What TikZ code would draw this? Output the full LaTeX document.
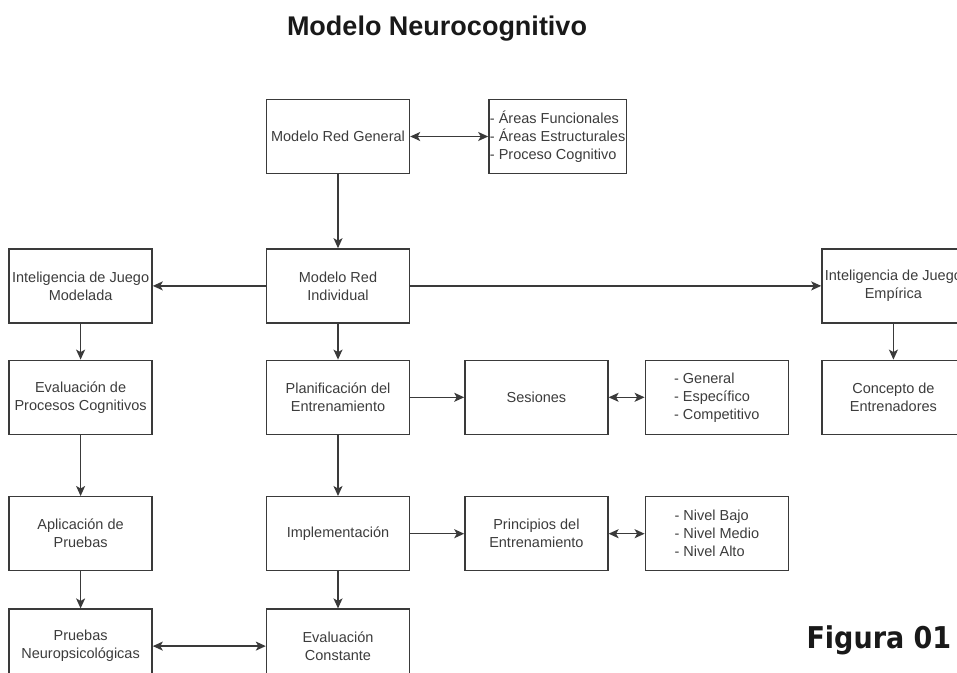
\documentclass[tikz,border=0pt]{standalone}
\usepackage{fontspec}
\setmainfont{Liberation Sans}
\newfontfamily\figfont{DejaVu Sans Condensed}
\usepackage{xcolor}
\usetikzlibrary{arrows.meta, positioning}
\definecolor{linea}{HTML}{3A3A3A}
\definecolor{texto}{HTML}{3C3C3C}
\tikzset{
  blok/.style={rectangle,draw=linea,line width=1.4pt,minimum width=143pt,minimum height=74pt,inner sep=1pt,align=center,text=texto,font=\fontsize{14.5}{18}\selectfont},
  lista/.style={blok,align=left},
  flecha/.style={-{Stealth[length=10pt,width=9pt,inset=2.5pt]}, line width=1.4pt, color=linea},
  dobleflecha/.style={{Stealth[length=10pt,width=9pt,inset=2.5pt]}-{Stealth[length=10pt,width=9pt,inset=2.5pt]}, line width=1.4pt, color=linea}
}

\begin{document}
\begin{tikzpicture}[x=1pt,y=-1pt]
  \useasboundingbox (0,0) rectangle (957,672);
  \node[font=\bfseries\fontsize{27}{30}\selectfont, anchor=base, text=black!90] (titulo) at (437,35) {Modelo Neurocognitivo};
  % columna central
  \node[blok] (MRG) at (338,136.5) {Modelo Red General};
  \node[lista, minimum width=130pt, right=78pt of MRG] (areas) {- Áreas Funcionales\\- Áreas Estructurales\\- Proceso Cognitivo};
  \node[blok, below=74pt of MRG] (MRI) {Modelo Red\\Individual};
  \node[blok, below=36pt of MRI] (PE) {Planificación del\\Entrenamiento};
  \node[blok, right=54pt of PE] (SES) {Sesiones};
  \node[lista, right=36pt of SES] (tipos) {- General\\- Específico\\- Competitivo};
  \node[blok, below=61pt of PE] (IMP) {Implementación};
  \node[blok, right=54pt of IMP] (PRE) {Principios del\\Entrenamiento};
  \node[lista, right=36pt of PRE] (niveles) {- Nivel Bajo\\- Nivel Medio\\- Nivel Alto};
  \node[blok, below=37pt of IMP] (EC) {Evaluación\\Constante};
  % columna izquierda
  \node[blok, left=113pt of MRI] (IJM) {Inteligencia de Juego\\Modelada};
  \node[blok, below=36pt of IJM] (EPC) {Evaluación de\\Procesos Cognitivos};
  \node[blok, below=61pt of EPC] (AP) {Aplicación de\\Pruebas};
  \node[blok, below=37pt of AP] (PN) {Pruebas\\Neuropsicológicas};
  % columna derecha
  \node[blok, right=411pt of MRI] (IJE) {Inteligencia de Juego\\Empírica};
  \node[blok, below=36pt of IJE] (CE) {Concepto de\\Entrenadores};
  \node[font=\figfont\bfseries\fontsize{30}{32}\selectfont, anchor=base west, text=black!90] (fig) at (803,648) {Figura 01};
  % conexiones
  \draw[dobleflecha] (MRG) -- (areas);
  \draw[flecha] (MRG) -- (MRI);
  \draw[flecha] (MRI) -- (IJM);
  \draw[flecha] (MRI) -- (IJE);
  \draw[flecha] (IJE) -- (CE);
  \draw[flecha] (IJM) -- (EPC);
  \draw[flecha] (EPC) -- (AP);
  \draw[flecha] (AP) -- (PN);
  \draw[flecha] (MRI) -- (PE);
  \draw[flecha] (PE) -- (SES);
  \draw[dobleflecha] (SES) -- (tipos);
  \draw[flecha] (PE) -- (IMP);
  \draw[flecha] (IMP) -- (PRE);
  \draw[dobleflecha] (PRE) -- (niveles);
  \draw[flecha] (IMP) -- (EC);
  \draw[dobleflecha] (PN) -- (EC);
\end{tikzpicture}
\end{document}
